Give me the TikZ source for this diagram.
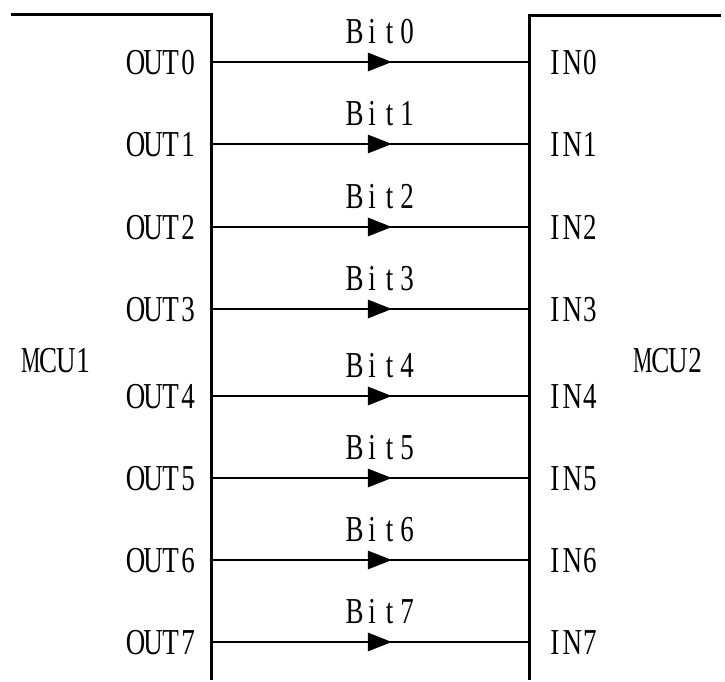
\documentclass[tikz,border=0pt]{standalone}
\usepackage{fontspec}
\setmainfont{Liberation Serif}
\newfontfamily\labfont[FakeStretch=0.74]{Liberation Serif}
\usetikzlibrary{arrows.meta,decorations.markings}
\makeatletter
\def\mono#1{\mono@#1\relax}
\def\mono@#1{\ifx#1\relax\else\makebox[17.5pt][c]{#1}\expandafter\mono@\fi}
\makeatother
\newcommand{\narrowM}{\scalebox{0.8}[1]{M}}
\tikzset{
  lab/.style={inner sep=0pt,font=\labfont\fontsize{36.5}{36.5}\selectfont},
  wall/.style={line width=3pt},
  sig/.style={line width=2.8pt,decoration={markings,
      mark=at position 0.569 with {\arrow{Triangle[length=24pt,width=18pt]}}},
      postaction={decorate}},
}
\begin{document}
\begin{tikzpicture}[x=1pt,y=-1pt]
\useasboundingbox (0,0) rectangle (725,682);
\coordinate (l0) at (11,15);
\coordinate (lt) at (211,15);
\coordinate (lb) at (211,680);
\coordinate (r0) at (721,16);
\coordinate (rt) at (529,16);
\coordinate (rb) at (529,680);
\draw[wall] (l0) -- (lt) -- (lb);
\draw[wall] (r0) -- (rt) -- (rb);
\node[lab,anchor=base] (mcu1) at (57,372) {\makebox[17.5pt][c]{\narrowM}\mono{CU1}};
\node[lab,anchor=base] (mcu2) at (669,372) {\makebox[17.5pt][c]{\narrowM}\mono{CU2}};
\foreach \i/\y in {0/62,1/144,2/227,3/309,4/396,5/478,6/560,7/642}{
  \coordinate (o\i) at (211,\y);
  \coordinate (i\i) at (529,\y);
  \draw[sig] (o\i) -- (i\i);
  \node[lab,anchor=base east] (out\i) at (197,\y+12.5) {\mono{OUT\i}};
  \node[lab,anchor=base west] (in\i) at (546,\y+12.5) {\mono{IN\i}};
  \node[lab,anchor=base] (bit\i) at (381,\y-18.5) {\mono{Bit\i}};
}
\end{tikzpicture}
\end{document}
